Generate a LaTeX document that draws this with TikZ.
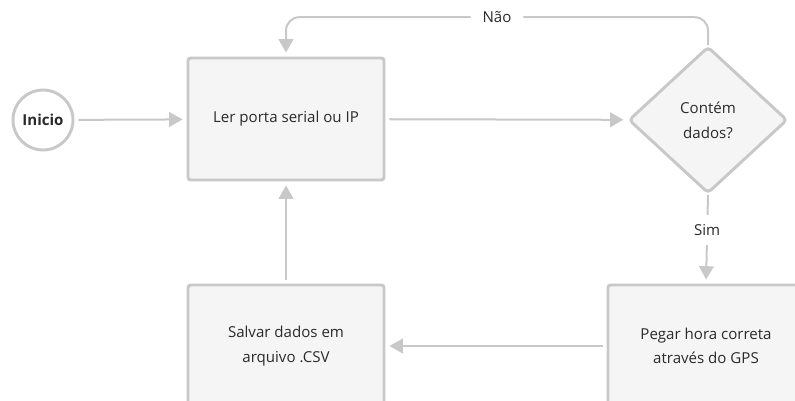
\documentclass[tikz,border=0pt]{standalone}
\usepackage{fontspec}
\setmainfont{Open Sans}
\usetikzlibrary{positioning,arrows.meta,shapes.geometric}

\definecolor{linegray}{HTML}{C8C8C8}
\definecolor{boxfill}{HTML}{F5F5F5}
\definecolor{txtgray}{HTML}{2A2A2A}

\begin{document}
\begin{tikzpicture}[
  x=0.75pt, y=-0.75pt,
  font=\fontsize{11.3}{18.5}\selectfont, text=txtgray,
  stepbox/.style={rectangle, rounded corners=2pt, draw=linegray, line width=2.2pt, fill=boxfill, align=center, minimum width=147pt, minimum height=91.5pt},
  startnode/.style={circle, draw=linegray, line width=2.2pt, fill=white, minimum size=45pt, inner sep=0pt, font=\fontsize{11.3}{18.5}\selectfont\bfseries},
  decision/.style={diamond, rounded corners=3pt, draw=linegray, line width=2.2pt, fill=boxfill, align=center, minimum width=119pt, minimum height=110pt, inner sep=0pt},
  arrow/.style={-{Triangle[length=10pt, width=11pt]}, draw=linegray, line width=1.5pt, shorten >=3pt, shorten <=3pt},
  lbl/.style={fill=white, inner xsep=9pt, inner ysep=7pt}
]
\useasboundingbox (0,0) rectangle (795,400);
\clip (0,0) rectangle (795,400);

% Start and reading
\node[startnode] (inicio) at (43,120) {Inicio};
\node[stepbox] (ler) at (286,119) {Ler porta serial ou IP};

% Decision
\node[decision] (contem) at (708,120) {Contém\\dados?};

% Lower boxes
\node[stepbox] (gps) at (706,346) {Pegar hora correta\\através do GPS};
\node[stepbox] (salvar) at (286,346) {Salvar dados em\\arquivo .CSV};

% Arrows main loop
\draw[arrow] (inicio) -- (ler);
\draw[arrow] (ler) -- (contem);
\draw[arrow, shorten <=0pt, rounded corners=10pt] (contem.north) -- ++(0,-28) -| node[pos=0.25, lbl]{Não} (ler.north);
\draw[arrow, shorten <=0pt] (contem.south) -- node[pos=0.4, lbl]{Sim} (gps.north);
\draw[arrow] (gps.west) -- (salvar.east);
\draw[arrow] (salvar.north) -- (ler.south);

\end{tikzpicture}
\end{document}
